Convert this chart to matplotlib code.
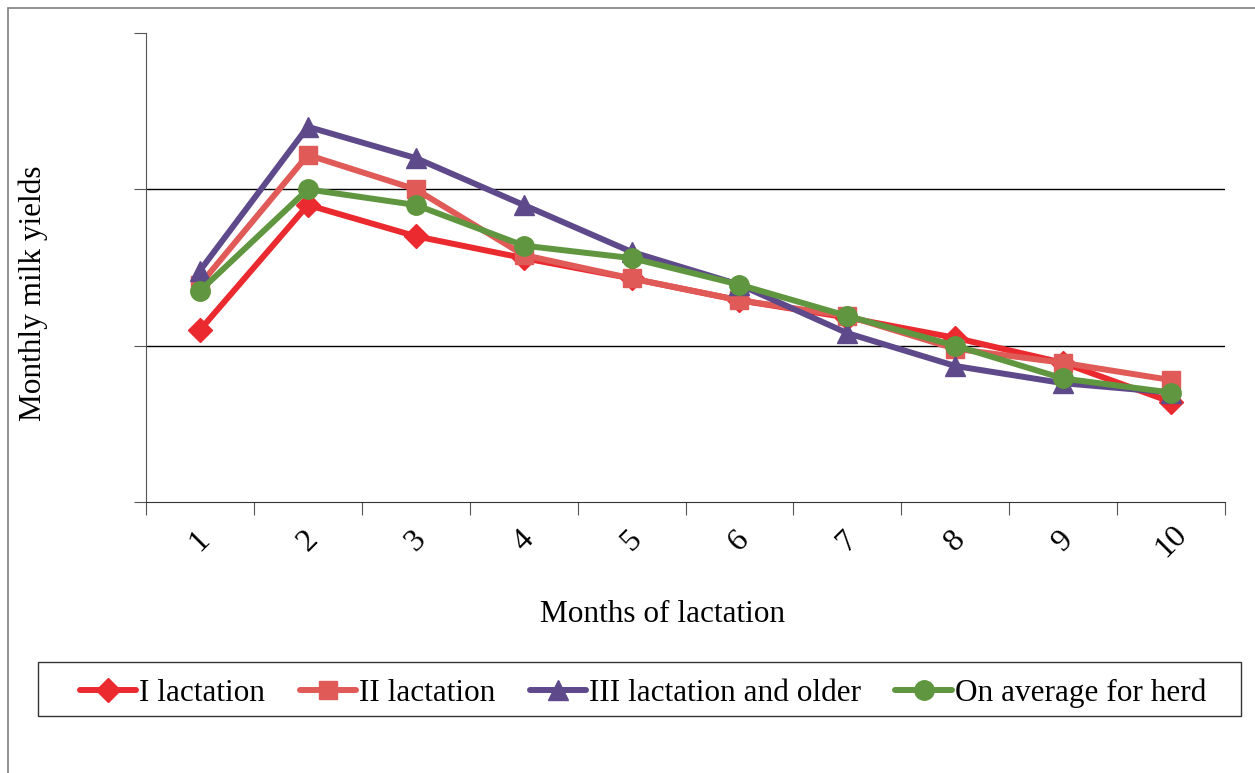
import matplotlib.pyplot as plt
from matplotlib.patches import Rectangle

plt.rcParams['font.family'] = ['Liberation Serif', 'DejaVu Serif']

months = [1, 2, 3, 4, 5, 6, 7, 8, 9, 10]
lact_1 = [1.10, 1.90, 1.70, 1.56, 1.43, 1.29, 1.18, 1.05, 0.89, 0.64]
lact_2 = [1.39, 2.22, 2.00, 1.58, 1.43, 1.29, 1.19, 0.98, 0.89, 0.78]
lact_3 = [1.48, 2.40, 2.20, 1.90, 1.60, 1.39, 1.08, 0.87, 0.76, 0.70]
herd_avg = [1.35, 2.00, 1.90, 1.64, 1.56, 1.39, 1.19, 1.00, 0.79, 0.70]

W, H = 1255, 773
fig = plt.figure(figsize=(W / 100, H / 100), dpi=100)
ax = fig.add_axes([146 / W, 1 - 502 / H, (1225 - 146) / W, (502 - 33) / H])

# outer frame (only left and top edges visible in the reference)
fig.patches.append(Rectangle((8 / W, -0.1), 1.2, 1 - 8 / H + 0.1, transform=fig.transFigure,
                             fill=False, edgecolor='#7f7f7f', linewidth=1.2))
# legend box
fig.patches.append(Rectangle((38 / W, 1 - 716 / H), (1241 - 38) / W, 54 / H,
                             transform=fig.transFigure, fill=False,
                             edgecolor='#333333', linewidth=1.0))

series = [
    (lact_1, 'I lactation', '#ea2a2f', 'D', 12),
    (lact_2, 'II lactation', '#e05a57', 's', 13),
    (lact_3, 'III lactation and older', '#5e4a8a', '^', 14),
    (herd_avg, 'On average for herd', '#5f963f', 'o', 14),
]
x = [m - 0.5 for m in months]
for vals, name, col, mk, ms in series:
    ax.plot(x, vals, color=col, lw=4.3, marker=mk, markersize=ms, label=name,
            solid_capstyle='round')

ax.set_xlim(0, 10)
ax.set_ylim(0, 3)
ax.set_xticks(range(11))
ax.set_xticklabels([])
ax.set_xticks(x, minor=True)
ax.set_xticklabels([str(m) for m in months], minor=True, rotation=45, fontsize=23,
                   rotation_mode='anchor')
ax.tick_params(axis='x', which='minor', length=0, pad=8)
ax.tick_params(axis='x', which='major', length=9, direction='out', color='#555555')
ax.set_yticks([0, 1, 2, 3])
ax.set_yticklabels([])
ax.tick_params(axis='y', length=9, direction='out', color='#555555')
for lbl in ax.get_xticklabels(minor=True):
    lbl.set_horizontalalignment('center')
    lbl.set_verticalalignment('center')
    lbl.set_y(-0.06)

ax.grid(axis='y', color='black', lw=1.0)
gl = ax.yaxis.get_gridlines()
gl[0].set_visible(False)
gl[-1].set_visible(False)
ax.set_axisbelow(True)
for s in ['top', 'right']:
    ax.spines[s].set_visible(False)
ax.spines['left'].set_color('#555555')
ax.spines['bottom'].set_color('#333333')

ax.set_xlabel('Months of lactation', fontsize=22.5, va='center')
ax.xaxis.set_label_coords((663 - 146) / 1079, -(615 - 502) / 469)
ax.set_ylabel('Monthly milk yields', fontsize=22.5, va='center')
ax.yaxis.set_label_coords((33 - 146) / 1079, (502 - 293) / 469)

fig.legend(loc='lower left', ncol=4, mode='expand',
           bbox_to_anchor=(72 / W, 1 - 716 / H, (1214 - 72) / W, 54 / H),
           fontsize=22.5, frameon=False,
           handlelength=1.8, handletextpad=0.1, borderaxespad=0, borderpad=0.25,
           markerscale=1.0)

fig.savefig('out.png', dpi=100)
